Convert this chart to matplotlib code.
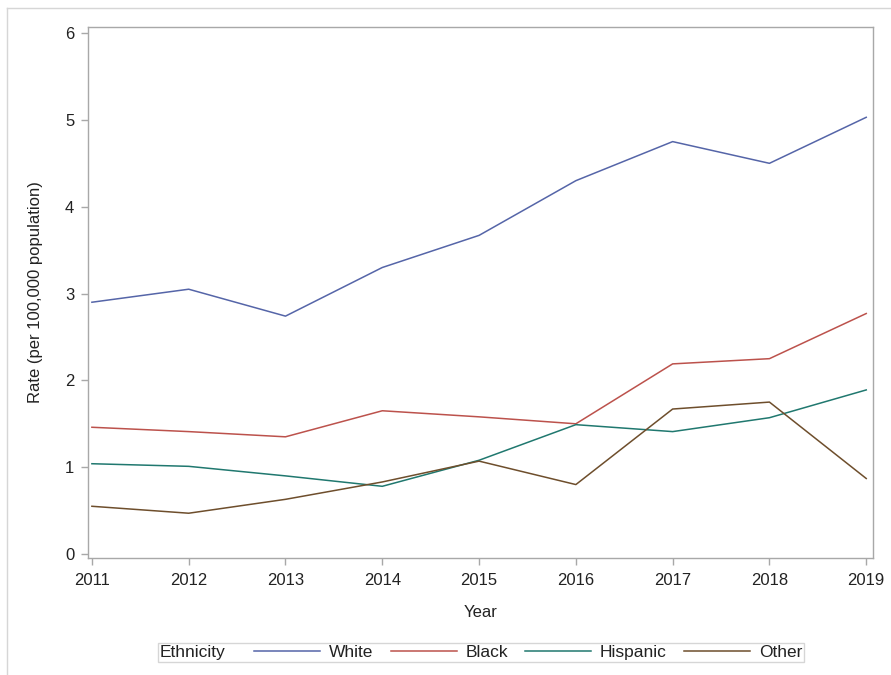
import matplotlib
matplotlib.use("Agg")
import matplotlib.pyplot as plt
from matplotlib.lines import Line2D
from matplotlib.offsetbox import DrawingArea, HPacker

years = [2011, 2012, 2013, 2014, 2015, 2016, 2017, 2018, 2019]
white = [2.90, 3.05, 2.74, 3.30, 3.67, 4.30, 4.75, 4.50, 5.03]
black = [1.46, 1.41, 1.35, 1.65, 1.58, 1.50, 2.19, 2.25, 2.77]
hispanic = [1.04, 1.01, 0.90, 0.78, 1.08, 1.49, 1.41, 1.57, 1.89]
other = [0.55, 0.47, 0.63, 0.83, 1.07, 0.80, 1.67, 1.75, 0.87]
series_names = ["White", "Black", "Hispanic", "Other"]
colors = ["#5565A8", "#BC524C", "#20786F", "#6E4E2C"]
yticks = [0, 1, 2, 3, 4, 5, 6]

plt.rcParams['font.family'] = ['Liberation Sans', 'DejaVu Sans']
fs = 12
lfs = 12.5
txt_c = "#222222"

fig = plt.figure(figsize=(8.91, 6.75), dpi=100)
ax = fig.add_axes([0.0988, 0.1733, 0.9798 - 0.0988, 0.96 - 0.1733])

for vals, name, c in zip([white, black, hispanic, other], series_names, colors):
    ax.plot(years, vals, color=c, lw=1.1, label=name)

ax.set_xlim(2010.96, 2019.07)
ax.set_ylim(-0.046, 6.07)
ax.set_xticks(years)
ax.set_yticks(yticks)
spine_c = "#A8A8A8"
for s in ax.spines.values():
    s.set_color(spine_c)
    s.set_linewidth(1.0)
ax.tick_params(axis='both', direction='out', length=5, width=1.0, color=spine_c,
               labelsize=fs, labelcolor=txt_c)
ax.tick_params(axis='x', pad=6)
ax.tick_params(axis='y', pad=5)
ax.set_xlabel("Year", fontsize=fs, color=txt_c, labelpad=12)
ax.set_ylabel("Rate (per 100,000 population)", fontsize=fs, color=txt_c, labelpad=16)

handles, labels = ax.get_legend_handles_labels()
leg = fig.legend(handles, labels, title="Ethnicity", ncol=4, loc='center',
                 bbox_to_anchor=(0.54, 0.0333), fontsize=lfs, title_fontsize=lfs,
                 frameon=True, fancybox=False, edgecolor="#CCCCCC",
                 handlelength=3.8, handletextpad=0.5, columnspacing=1.0,
                 borderpad=0.12, borderaxespad=0)
leg.get_frame().set_linewidth(1.0)
for t in leg.get_texts():
    t.set_color(txt_c)
leg.get_title().set_color(txt_c)
# move title to the left of the entries
c = leg.get_children()[0]
title_box = c.get_children()[0]
hpack = c.get_children()[1]
c._children = [hpack]
title_pack = HPacker(children=[title_box, DrawingArea(8, 1)], pad=0, sep=0)
hpack._children = [title_pack] + hpack.get_children()

# outer border
fig.add_artist(Line2D([7 / 891, 7 / 891], [0, 1 - 8 / 675], transform=fig.transFigure,
                      color="#D6D6D6", lw=1.0))
fig.add_artist(Line2D([7 / 891, 1], [1 - 8 / 675, 1 - 8 / 675], transform=fig.transFigure,
                      color="#D6D6D6", lw=1.0))

fig.savefig("out.png", dpi=100)
